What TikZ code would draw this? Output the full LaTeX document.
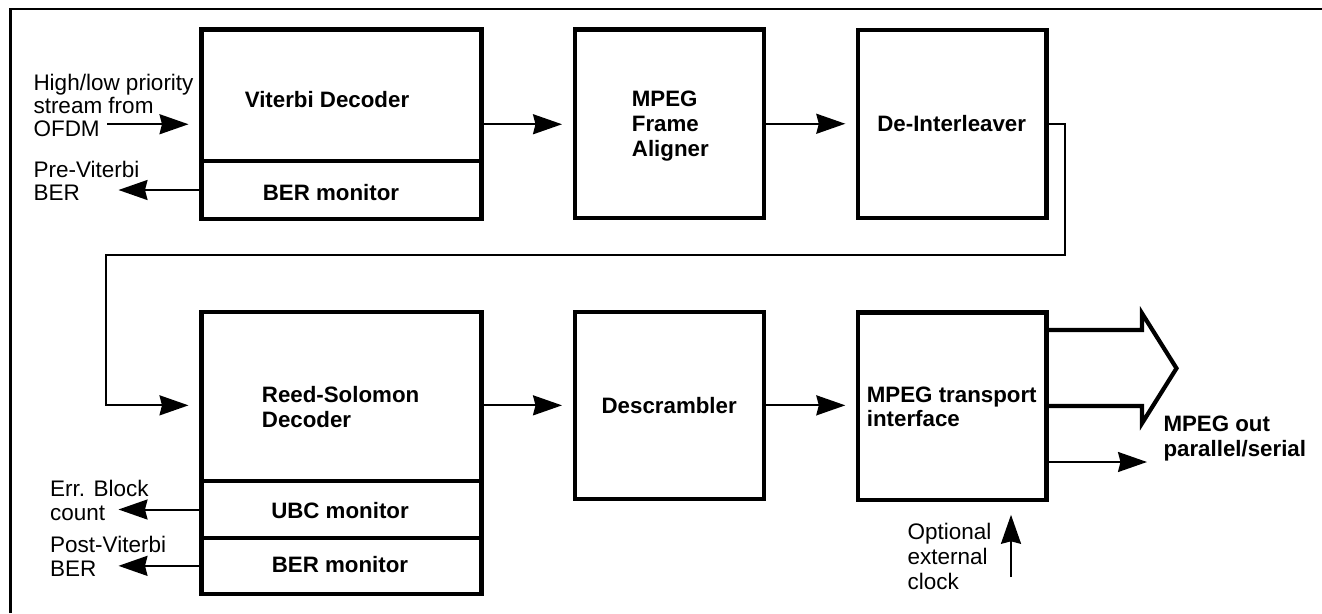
\documentclass[tikz,border=0pt]{standalone}
\usepackage{fontspec}
\setmainfont{Liberation Sans}
\usetikzlibrary{arrows.meta}
\newcommand\mystack[1]{\begin{tabular}[t]{@{}l@{}}#1\end{tabular}}
\begin{document}
\begin{tikzpicture}[x=1pt,y=-1pt,
  blk/.style={draw, line width=4.2pt, inner sep=0pt, outer sep=0pt},
  conn/.style={line width=2pt},
  arr/.style={conn, -{Stealth[length=29pt,width=20pt,inset=2.5pt]}},
  arrin/.style={arr, shorten >=13pt},
  rtxt/.style={inner sep=0pt, font=\fontsize{22.5}{22.7}\selectfont},
  btxt/.style={inner sep=0pt, font=\fontsize{22.3}{25}\selectfont\bfseries}]
\useasboundingbox (0,0) rectangle (1322,613);
% frame
\draw[line width=2.5pt] (10.5,613) -- (10.5,9.2) -- (1322,9.2);
% blocks
\node[blk, minimum width=280pt, minimum height=189.5pt] (viterbi) at (341.5,124.25) {};
\node[blk, minimum width=280pt, minimum height=58pt] (vber) at (341.5,190) {};
\node[blk, minimum width=189pt, minimum height=188.5pt] (mfa) at (669.5,123.75) {};
\node[blk, minimum width=188.2pt, minimum height=188pt] (deint) at (952.4,124) {};
\node[blk, minimum width=280pt, minimum height=282.3pt] (rs) at (341.5,452.85) {};
\node[blk, minimum width=280pt, minimum height=56.4pt] (ubc) at (341.5,509.5) {};
\node[blk, minimum width=280pt, minimum height=56.3pt] (rsber) at (341.5,565.85) {};
\node[blk, minimum width=189pt, minimum height=187.3pt] (desc) at (669.5,405.35) {};
\node[blk, minimum width=188.2pt, minimum height=187.3pt] (mti) at (952.4,406.15) {};
% texts in blocks
\node[btxt, anchor=base] (tvit) at (327,107) {Viterbi Decoder};
\node[btxt, anchor=base] (tvber) at (331,200) {BER monitor};
\node[btxt, anchor=base west] (tmfa) at (631.7,106.7) {\mystack{MPEG\\Frame\\Aligner}};
\node[btxt, anchor=base] (tdeint) at (951.7,131) {De-Interleaver};
\node[btxt, anchor=base west] (trs) at (261.7,402.3) {\mystack{Reed-Solomon\\Decoder}};
\node[btxt, anchor=base] (tubc) at (340,518.7) {UBC monitor};
\node[btxt, anchor=base] (trsber) at (340,572) {BER monitor};
\node[btxt, anchor=base] (tdesc) at (669.2,413.3) {Descrambler};
\node[btxt, anchor=base west, font=\fontsize{22.3}{24}\selectfont\bfseries] (tmti) at (866.7,402.7) {\mystack{MPEG transport\\interface}};
\node[btxt, anchor=base west] (tout) at (1163.3,431.7) {\mystack{MPEG out\\parallel/serial}};
% outside labels
\node[rtxt, anchor=base west] (tin) at (33.3,90.7) {\mystack{High/low priority\\stream from\\OFDM}};
\node[rtxt, anchor=base west] (tpre) at (33.3,177.3) {\mystack{Pre-Viterbi\\BER}};
\node[rtxt, anchor=base west, font=\fontsize{22.5}{24.7}\selectfont] (terr) at (50,496) {\mystack{Err. Block\\count}};
\node[rtxt, anchor=base west, font=\fontsize{22.5}{24}\selectfont] (tpost) at (50,552.7) {\mystack{Post-Viterbi\\BER}};
\node[rtxt, anchor=base west, font=\fontsize{22.5}{25.3}\selectfont] (tclk) at (907.3,539.3) {\mystack{Optional\\external\\clock}};
% coordinates
\coordinate (inS) at (107,124.25);
\coordinate (outL) at (118.5,0);
\coordinate (loopR) at (1065,255);
\coordinate (loopL) at (105.5,255);
\coordinate (baT) at (1142,330);
\coordinate (baTn) at (1142,313.3);
\coordinate (baTip) at (1176.5,368.3);
\coordinate (baBn) at (1142,423.3);
\coordinate (baB) at (1142,405.9);
\coordinate (oT) at (1147,462);
\coordinate (clkB) at (1011,577);
% connectors
\draw[arrin] (inS) -- (inS -| viterbi.west);
\draw[arr] (vber.west) -- (vber.west -| outL);
\draw[arrin] (viterbi.east) -- (viterbi.east -| mfa.west);
\draw[arrin] (mfa.east) -- (mfa.east -| deint.west);
\draw[arrin] (deint.east) -| (loopR) -- (loopL) |- (rs.west |- desc.west);
\draw[arrin] (rs.east |- desc.west) -- (desc.west);
\draw[arrin] (desc.east) -- (desc.east -| mti.west);
\draw[arr] (ubc.west) -- (ubc.west -| outL);
\draw[arr] (rsber.west) -- (rsber.west -| outL);
\draw[line width=4.2pt, line join=miter] (mti.east |- baT) -- (baT) -- (baTn) -- (baTip) -- (baBn) -- (baB) -- (mti.east |- baB);
\draw[arr] (mti.east |- oT) -- (oT);
\draw[arr, shorten >=15pt] (clkB) -- (clkB |- mti.south);
\end{tikzpicture}
\end{document}
